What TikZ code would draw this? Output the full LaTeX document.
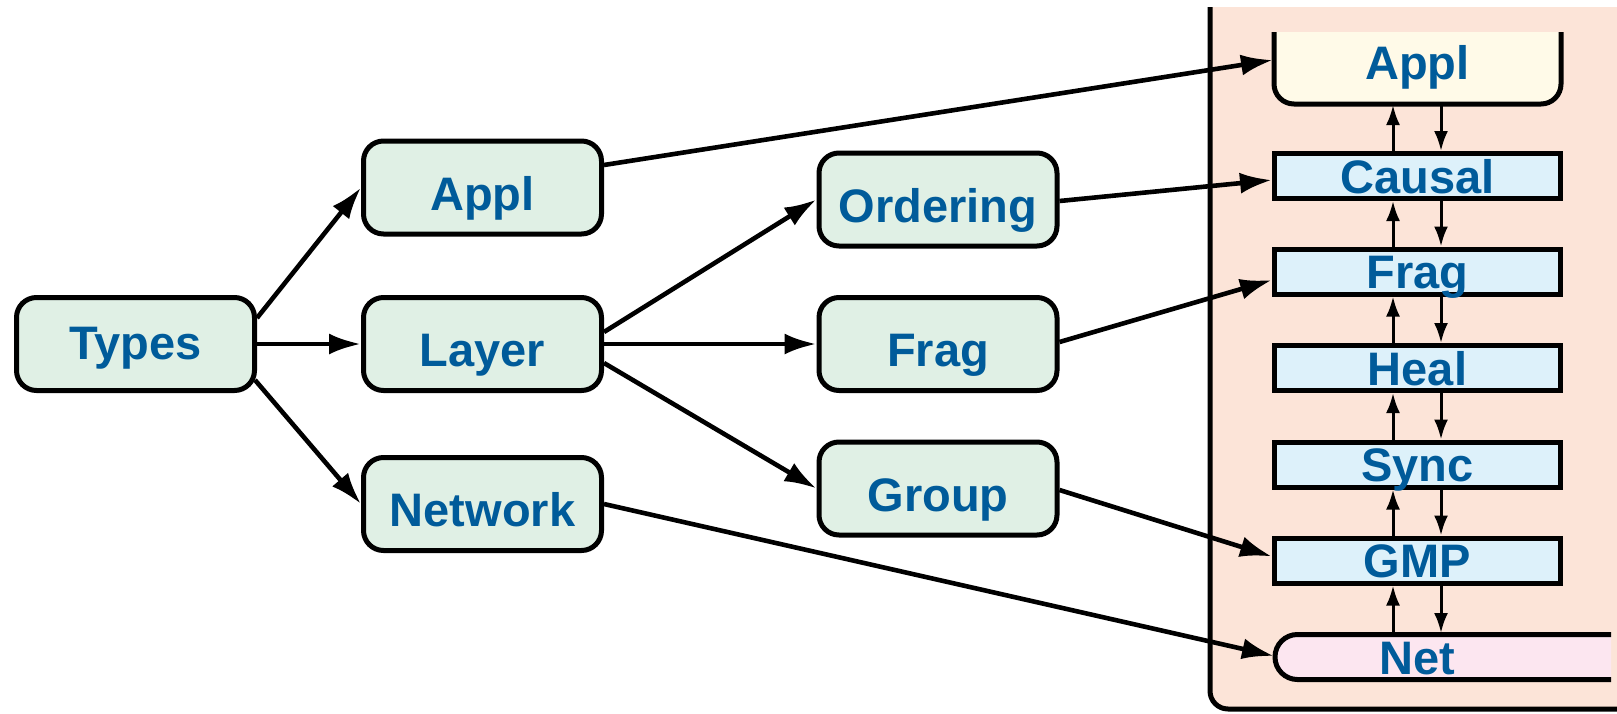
\documentclass[tikz,border=0pt]{standalone}
\usepackage{fontspec}
\setmainfont{Liberation Sans}
\usetikzlibrary{arrows.meta,calc}

\definecolor{nodegreen}{RGB}{224,240,229}
\definecolor{textblue}{RGB}{0,91,154}
\definecolor{panelpeach}{RGB}{252,228,216}
\definecolor{layerblue}{RGB}{221,241,250}
\definecolor{applcream}{RGB}{255,250,232}
\definecolor{netpink}{RGB}{252,230,240}

\begin{document}
\begin{tikzpicture}[x=0.5pt,y=-0.5pt,
  lbl/.style={font=\fontsize{23.5pt}{28pt}\selectfont\bfseries, text=textblue,
              text height=17pt, text depth=0pt},
  typebox/.style={lbl, draw=black, line width=2.5pt, fill=nodegreen, rounded corners=10pt,
                  minimum width=119pt, minimum height=46.5pt, inner sep=2pt,
                  text height=22.5pt},
  rootbox/.style={typebox, text height=15.5pt},
  layerbox/.style={lbl, draw=black, line width=2.5pt, fill=layerblue,
                   minimum width=143pt, minimum height=22.5pt, inner sep=2pt},
  flow/.style={line width=2.3pt, -{Latex[length=16pt,width=10.5pt]}},
  stack/.style={line width=1.5pt, -{Latex[length=10pt,width=7pt]}}]

\useasboundingbox (0,0) rectangle (1617,713);

% protocol stack panel
\fill[panelpeach] (1210,7) rectangle (1617,680);
\fill[panelpeach, rounded corners=9pt] (1210,600) rectangle (1660,709);
\draw[line width=2.5pt, rounded corners=9pt] (1210,7) -- (1210,709) -- (1660,709);

% application layer (open at the top)
\filldraw[fill=applcream, draw=black, line width=2.5pt, rounded corners=10pt]
  (1274,32) -- (1274,104) -- (1561,104) -- (1561,32);
\node[lbl] (rappl) at (1417.5,62) {Appl};
\coordinate (rapplW) at (1273,60);
\coordinate (rapplB) at (1417.5,105);

% network layer (open at the right)
\filldraw[fill=netpink, draw=black, line width=2.5pt, rounded corners=11.2pt]
  (1611,634.5) -- (1275,634.5) -- (1275,679.5) -- (1611,679.5);
\node[lbl] (net) at (1417.5,657) {Net};
\coordinate (netW) at (1274,656);
\coordinate (netT) at (1417.5,633);

% middle layers
\node[layerbox] (causal) at (1417.5,176) {Causal};
\node[layerbox] (fragR)  at (1417.5,271.5) {Frag};
\node[layerbox] (heal)   at (1417.5,368) {Heal};
\node[layerbox] (sync)   at (1417.5,464.5) {Sync};
\node[layerbox] (gmp)    at (1417.5,560.5) {GMP};

% arrows between adjacent layers
\foreach \hi/\lo in {rapplB/causal.north, causal.south/fragR.north,
                     fragR.south/heal.north, heal.south/sync.north,
                     sync.south/gmp.north, gmp.south/netT}{
  \draw[stack] ($(\lo)+(-24.5,0)$) -- ($(\hi)+(-24.5,0)$);
  \draw[stack] ($(\hi)+(23.5,0)$) -- ($(\lo)+(23.5,0)$);
}

% type hierarchy
\node[rootbox] (types)    at (135.5,344)  {Types};
\node[typebox] (applL)    at (482.5,187.5) {Appl};
\node[typebox] (layer)    at (482.5,344)  {Layer};
\node[typebox] (network)  at (482.5,504)  {Network};
\node[typebox] (ordering) at (938,199.5)  {Ordering};
\node[typebox] (fragM)    at (938,344)    {Frag};
\node[typebox] (group)    at (938,488.5)  {Group};

\draw[flow] ($(types.east)+(0,-26)$) -- (applL.west);
\draw[flow] (types.east) -- (layer.west);
\draw[flow] ($(types.east)+(-2,36)$) -- (network.west);
\draw[flow] ($(layer.east)+(0,-12)$) -- (ordering.west);
\draw[flow] (layer.east) -- (fragM.west);
\draw[flow] ($(layer.east)+(0,19)$) -- (group.west);

% types mapped onto the stack
\draw[flow] ($(applL.east)+(0,-22.5)$) -- (rapplW);
\draw[flow] ($(ordering.east)+(0,1.5)$) -- ($(causal.west)+(0,4)$);
\draw[flow] ($(fragM.east)+(0,-2)$) -- ($(fragR.west)+(0,8.5)$);
\draw[flow] ($(group.east)+(0,1.5)$) -- ($(gmp.west)+(0,-4)$);
\draw[flow] (network.east) -- (netW);
\end{tikzpicture}
\end{document}
